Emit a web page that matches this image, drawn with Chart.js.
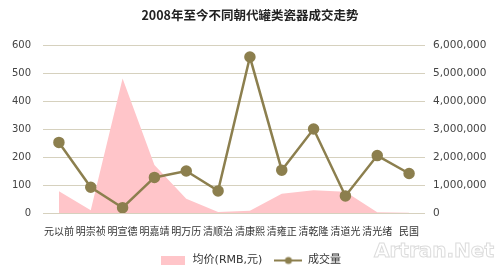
<!DOCTYPE html>
<html>
<head>
<meta charset="utf-8">
<script src="https://cdn.jsdelivr.net/npm/chart.js@4/dist/chart.umd.min.js"></script>
<style>
html, body { margin: 0; padding: 0; background: #fff; }
#wrap { position: relative; width: 500px; height: 276px; }
#mark { position: absolute; left: 374px; top: 238px; font: bold 20px "DejaVu Sans"; color: transparent; -webkit-text-stroke: 1px #dcdcdc; }
</style>
</head>
<body>
<div id="wrap">
<canvas id="chart" width="500" height="276"></canvas>
<div id="mark">Artran.Net</div>
</div>
<script>
const categories = ['元以前', '明崇祯', '明宣德', '明嘉靖', '明万历', '清顺治', '清康熙', '清雍正', '清乾隆', '清道光', '清光绪', '民国'];
const avgPrice = [78, 10, 480, 171, 51, 4, 8, 69, 81, 76, 3, 1];
const volume = [2520000, 920000, 190000, 1270000, 1500000, 790000, 5570000, 1530000, 3000000, 610000, 2050000, 1410000];
const seriesNames = ['均价(RMB,元)', '成交量'];

const pink = '#ffc5c9';
const olive = '#8c7f4e';
const gridColor = '#d6d1be';
const cjk = '"DejaVu Sans", "Noto Sans CJK SC", sans-serif';

// little legend pictures
function boxIcon() {
    const c = document.createElement('canvas');
    c.width = 24; c.height = 9;
    const g = c.getContext('2d');
    g.fillStyle = pink;
    g.fillRect(0, 0, 24, 9);
    return c;
}
function lineIcon() {
    const c = document.createElement('canvas');
    c.width = 28; c.height = 10;
    const g = c.getContext('2d');
    g.strokeStyle = olive;
    g.lineWidth = 2;
    g.beginPath(); g.moveTo(0, 5); g.lineTo(28, 5); g.stroke();
    g.fillStyle = olive;
    g.beginPath(); g.arc(14, 5, 3.5, 0, Math.PI * 2); g.fill();
    return c;
}
const icons = [boxIcon(), lineIcon()];

const ctx = document.getElementById('chart').getContext('2d');
new Chart(ctx, {
    data: {
        labels: categories,
        datasets: [{
            type: 'line',
            label: seriesNames[0],
            data: avgPrice,
            yAxisID: 'y',
            fill: 'origin',
            backgroundColor: pink,
            borderWidth: 0,
            borderColor: pink,
            pointRadius: 0,
            tension: 0,
            order: 1
        }, {
            type: 'line',
            label: seriesNames[1],
            data: volume,
            yAxisID: 'y1',
            borderColor: olive,
            backgroundColor: olive,
            borderWidth: 2.5,
            pointRadius: 4.5,
            pointBackgroundColor: olive,
            pointBorderColor: olive,
            tension: 0,
            fill: false,
            order: 0
        }]
    },
    options: {
        responsive: false,
        animation: false,
        plugins: {
            title: {
                display: true,
                text: '2008年至今不同朝代罐类瓷器成交走势',
                color: '#222',
                font: { family: '"Noto Sans CJK SC", sans-serif', size: 12.5, weight: 'bold' },
                padding: { top: 8, bottom: 22 }
            },
            legend: {
                position: 'bottom',
                labels: {
                    color: '#333',
                    font: { family: cjk, size: 11 },
                    usePointStyle: true,
                    pointStyleWidth: 28,
                    padding: 12,
                    generateLabels: (chart) => {
                        const items = Chart.defaults.plugins.legend.labels.generateLabels(chart);
                        items.forEach(it => { it.pointStyle = icons[it.datasetIndex]; });
                        return items.sort((a, b) => a.datasetIndex - b.datasetIndex);
                    }
                }
            },
            tooltip: { enabled: false }
        },
        scales: {
            x: {
                offset: true,
                grid: { display: false, drawTicks: false, offset: true },
                border: { display: false },
                ticks: {
                    color: '#333',
                    font: { family: cjk, size: 10 },
                    maxRotation: 0,
                    autoSkip: false,
                    padding: 13
                },
                afterFit: (s) => { s.height = 30; }
            },
            y: {
                position: 'left',
                min: 0,
                max: 600,
                grid: { color: gridColor, lineWidth: 1, drawTicks: false },
                border: { display: false },
                ticks: {
                    stepSize: 100,
                    color: '#444',
                    font: { family: '"DejaVu Sans", sans-serif', size: 10 },
                    padding: 12
                },
                afterFit: (s) => { s.width = 43; }
            },
            y1: {
                position: 'right',
                min: 0,
                max: 6000000,
                grid: { display: false, drawTicks: false },
                border: { display: false },
                ticks: {
                    stepSize: 1000000,
                    color: '#444',
                    font: { family: '"DejaVu Sans", sans-serif', size: 10.5 },
                    padding: 8,
                    callback: (v) => v.toLocaleString('en-US')
                },
                afterFit: (s) => { s.width = 75; }
            }
        }
    }
});
</script>
</body>
</html>
